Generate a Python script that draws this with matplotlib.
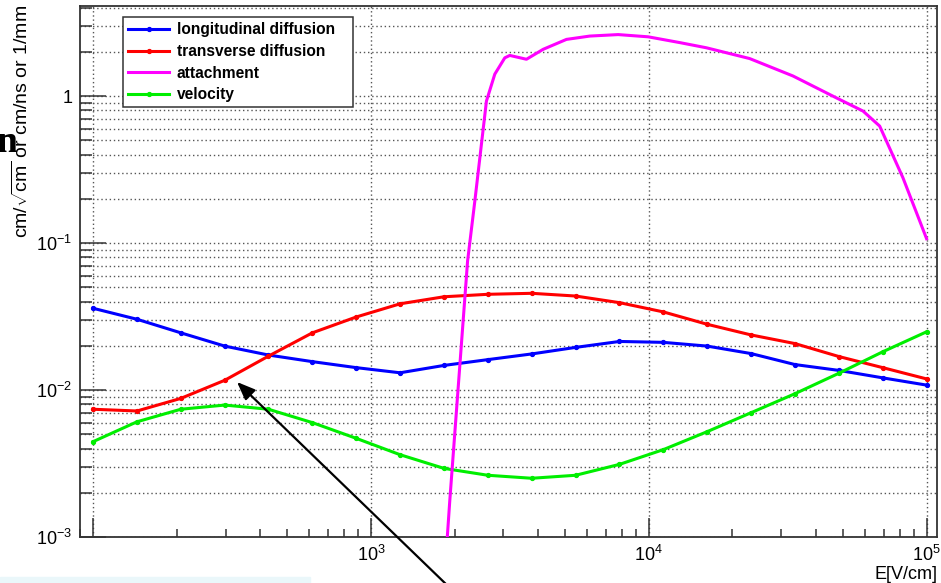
import numpy as np
import matplotlib
matplotlib.use("Agg")
import matplotlib.pyplot as plt
from matplotlib.ticker import LogLocator, NullFormatter, FixedLocator, FixedFormatter
from matplotlib.patches import Rectangle

plt.rcParams['font.family'] = ['Liberation Sans', 'DejaVu Sans']
plt.rcParams['mathtext.fontset'] = 'custom'
plt.rcParams['mathtext.rm'] = 'Liberation Sans'
plt.rcParams['mathtext.it'] = 'Liberation Sans:italic'
plt.rcParams['mathtext.bf'] = 'Liberation Sans:bold'

# Champ electrique (V/cm), points communs aux trois courbes
champ = [100, 144, 207, 298, 428, 616, 886, 1274, 1833, 2637,
         3793, 5456, 7848, 11288, 16238, 23357, 33598, 48329, 69519, 100000]

diff_long = [0.0360, 0.0303, 0.0245, 0.0199, 0.0173, 0.0156, 0.0142, 0.0131, 0.0147, 0.0161,
             0.0176, 0.0195, 0.0214, 0.0211, 0.0199, 0.0177, 0.0149, 0.0136, 0.0121, 0.0108]
diff_trans = [0.0074, 0.0072, 0.00877, 0.01165, 0.0170, 0.0245, 0.0314, 0.0386, 0.0431, 0.0448,
              0.0455, 0.0436, 0.0393, 0.0340, 0.0280, 0.0237, 0.0207, 0.0169, 0.0142, 0.0119]
vitesse = [0.00445, 0.00608, 0.0074, 0.0079, 0.0074, 0.0060, 0.00469, 0.00363, 0.00293, 0.00263,
           0.00251, 0.00263, 0.00312, 0.00393, 0.00521, 0.00701, 0.00944, 0.0130, 0.0182, 0.0249]

# Attachement : relevé plus fin
champ_att = [1860, 1923, 2229, 2367, 2606, 2793, 3034, 3162, 3631, 4169, 5058, 6138,
             7762, 9954, 12950, 16140, 23070, 33040, 47300, 59020, 67780, 82200, 100000]
attachement = [0.0007, 0.00176, 0.0755, 0.193, 0.925, 1.41, 1.82, 1.89, 1.78, 2.08, 2.43, 2.56,
               2.62, 2.53, 2.31, 2.13, 1.80, 1.37, 0.973, 0.791, 0.625, 0.278, 0.107]

noms = ["longitudinal diffusion", "transverse diffusion", "attachment", "velocity"]
couleurs = ["#0000ff", "#ff0000", "#ff00ff", "#00ee00"]

x_ticks = [1e2, 1e3, 1e4, 1e5]
x_labels = ["", r"$10^{3}$", r"$10^{4}$", r"$10^{5}$"]
y_ticks = [1e-3, 1e-2, 1e-1, 1]
y_labels = [r"$10^{-3}$", r"$10^{-2}$", r"$10^{-1}$", "1"]

W, H = 941, 583
fig = plt.figure(figsize=(W / 100, H / 100), dpi=100)
ax = fig.add_axes([80 / W, 1 - 537 / H, 857 / W, 531 / H])

lw = 2.2
ms = 2.8
l1, = ax.plot(champ, diff_long, color=couleurs[0], lw=lw, marker='o', ms=ms, zorder=3)
l2, = ax.plot(champ, diff_trans, color=couleurs[1], lw=lw, marker='o', ms=ms, zorder=3.1)
l4, = ax.plot(champ, vitesse, color=couleurs[3], lw=lw, marker='o', ms=ms, zorder=3.2)
l3, = ax.plot(champ_att, attachement, color=couleurs[2], lw=lw, zorder=3.3)

ax.set_xscale('log')
ax.set_yscale('log')
ax.set_xlim(89.8, 1.09e5)
ax.set_ylim(1e-3, 4.1)

ax.xaxis.set_major_locator(FixedLocator(x_ticks))
ax.xaxis.set_major_formatter(FixedFormatter(x_labels))
ax.xaxis.set_minor_locator(LogLocator(base=10, subs=np.arange(2, 10), numticks=20))
ax.xaxis.set_minor_formatter(NullFormatter())
ax.yaxis.set_major_locator(FixedLocator(y_ticks))
ax.yaxis.set_major_formatter(FixedFormatter(y_labels))
ax.yaxis.set_minor_locator(LogLocator(base=10, subs=np.arange(2, 10), numticks=20))
ax.yaxis.set_minor_formatter(NullFormatter())

gris = '#333333'
ax.tick_params(which='both', direction='in', top=False, right=False, color=gris, width=1.1)
ax.tick_params(axis='y', which='major', length=18.5, pad=5.5, labelsize=13)
ax.tick_params(axis='y', which='minor', length=8.5)
ax.tick_params(axis='x', which='major', length=14, pad=6, labelsize=13)
ax.tick_params(axis='x', which='minor', length=6)
for s in ax.spines.values():
    s.set_color(gris)
    s.set_linewidth(1.3)

ax.grid(True, which='major', axis='x', color='#555555', ls=(0, (1, 2)), lw=1)
ax.grid(True, which='both', axis='y', color='#555555', ls=(0, (1, 2)), lw=1)
ax.set_axisbelow(True)

# legende : boite de 230 x 90 px
leg = ax.legend([l1, l2, l3, l4], noms, loc='upper left',
                bbox_to_anchor=(43 / 857, 1 - 101 / 531, 230 / 857, 90 / 531), mode='expand',
                borderaxespad=0, fancybox=False, framealpha=1, edgecolor=gris,
                prop={'weight': 'bold', 'size': 11.2}, handlelength=2.6, handletextpad=0.5,
                labelspacing=0.42, borderpad=0.35, markerscale=1)
leg.get_frame().set_linewidth(1.1)
leg.set_zorder(5)

# textes autour
fig.text(22 / W, 1 - 121 / H, r'cm/$\sqrt{\mathrm{cm}}$ or cm/ns or 1/mm', rotation=90,
         ha='center', va='center', fontsize=14)
fig.text(-3 / W, 1 - 152 / H, 'n', family='Liberation Serif', weight='bold', fontsize=27,
         ha='left', va='baseline')
fig.text(937 / W, 1 - 579 / H, 'E[V/cm]', ha='right', va='baseline', fontsize=13)

# bande claire en bas
fig.patches.append(Rectangle((0, 0), 310 / W, 6 / H, transform=fig.transFigure,
                             color='#eaf7fa', zorder=0))

# fleche
ax.annotate('', xy=(237, H - 382), xycoords='figure pixels',
            xytext=(449, -4), textcoords='figure pixels',
            arrowprops=dict(arrowstyle='-|>,head_length=1.0,head_width=0.4', color='black',
                            lw=1.6, mutation_scale=11, shrinkA=0, shrinkB=0),
            annotation_clip=False, zorder=10)

fig.savefig('out.png', dpi=100)
